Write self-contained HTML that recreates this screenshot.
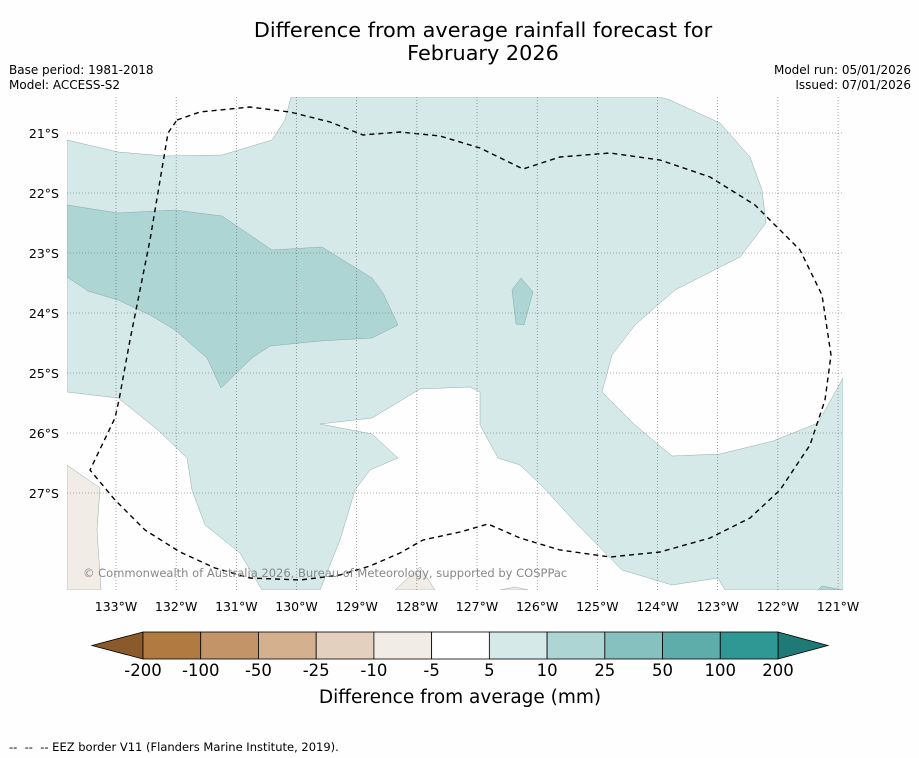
<!DOCTYPE html>
<html><head><meta charset="utf-8"><style>
body{margin:0;background:#fff;font-family:"DejaVu Sans","Liberation Sans",sans-serif;}
#wrap{position:relative;width:919px;height:758px;overflow:hidden;background:#fefefe;}
.t{position:absolute;white-space:nowrap;color:#000;}
svg text{font-family:"DejaVu Sans","Liberation Sans",sans-serif;}
</style></head><body>
<div id="wrap">
<div class="t" style="left:0;width:966px;top:19px;text-align:center;font-size:20.8px;line-height:23px;">Difference from average rainfall forecast for<br>February 2026</div>
<div class="t" style="left:9px;top:63px;font-size:12px;line-height:15px;">Base period: 1981-2018<br>Model: ACCESS-S2</div>
<div class="t" style="right:8px;top:63px;font-size:12px;line-height:15px;text-align:right;">Model run: 05/01/2026<br>Issued: 07/01/2026</div>
<div class="t" style="left:9px;top:740px;font-size:11.5px;">--&nbsp; --&nbsp; -- EEZ border V11 (Flanders Marine Institute, 2019).</div>
<svg id="svg" width="919" height="758" style="position:absolute;left:0;top:0"></svg>
</div>
<script>
const lonTicks=[133,132,131,130,129,128,127,126,125,124,123,122,121];
const latTicks=[21,22,23,24,25,26,27];
const cbLabels=["-200","-100","-50","-25","-10","-5","5","10","25","50","100","200"];
const cbColors=["#b07a40","#c39467","#d4b08f","#e4d0bf","#f2ece7","#ffffff","#d4e9e8","#acd5d4","#86c1bf","#5eadab","#2f9894"];
const extColors=["#8b5a2b","#1f7a77"];
const X=lon=>116+(133-lon)*60.17;
const Y=lat=>133+(lat-21)*60;
const svg=document.getElementById('svg');
const NS="http://www.w3.org/2000/svg";
function el(tag,attrs,parent){const e=document.createElementNS(NS,tag);for(const k in attrs)e.setAttribute(k,attrs[k]);(parent||svg).appendChild(e);return e;}
const clip=el('clipPath',{id:'pc'});el('rect',{x:67,y:97,width:776,height:493},clip);
const g=el('g',{'clip-path':'url(#pc)'});


const shapes=[
["#d4e9e8","light-teal-region","M291,97 L660,97 670,100 720,123 750,157 762,190 766,223 740,257 675,290 635,325 612,355 602,392 635,425 672,456 720,454 773,441 818,423 843,378 843,590 725,590 718,578 672,585 622,570 575,522 543,487 520,465 498,458 480,425 480,392 470,387 420,389 372,418 320,424 372,434 398,458 370,470 355,490 340,540 320,590 262,590 240,553 205,525 192,490 187,458 158,430 118,398 67,392 67,140 118,152 165,156 222,155 272,140 285,120Z"],
["#acd5d4","medium-teal-region","M67,205 L118,213 175,210 222,216 272,250 322,247 372,278 383,293 398,325 372,338 320,341 270,346 252,358 221,388 207,358 175,330 150,315 118,300 88,291 67,277Z"],
["#acd5d4","medium-teal-spot","M512,290 L521,278 533,292 524,325 516,324Z"],
["#f2ece7","dry-region-west","M67,465 L100,488 97,530 101,590 67,590Z"],
["#f2ece7","dry-spot-1","M395,590 L420,567 435,590Z"],
["#f2ece7","dry-spot-2","M500,590 L515,587 528,590Z"],
["#acd5d4","teal-spot-east","M818,590 L822,586 843,590Z"]];
shapes.forEach(s=>{const p=el('path',{d:s[2],fill:s[0],stroke:'#7a9a99','stroke-width':0.4},g);

});
lonTicks.forEach(l=>{const x=X(l);const ln=el('line',{x1:x,x2:x,y1:97,y2:590,stroke:'#666','stroke-width':0.6,'stroke-dasharray':'1,2'});


const t=el('text',{x:x,y:611,'font-size':12.5,'text-anchor':'middle'});t.textContent=l+'°W';

});
latTicks.forEach(l=>{const y=Y(l);const ln=el('line',{x1:67,x2:843,y1:y,y2:y,stroke:'#666','stroke-width':0.6,'stroke-dasharray':'1,2'});


const t=el('text',{x:59,y:y+5,'font-size':12.5,'text-anchor':'end'});t.textContent=l+'°S';

});
const eez=el('path',{d:"M177,120 L200,112 250,107 290,112 330,122 363,135 400,132 440,136 480,148 523,169 560,157 610,153 660,160 710,177 755,205 800,250 822,295 831,355 825,400 810,445 780,490 750,518 710,538 660,552 610,557 560,550 520,538 488,524 460,532 423,540 400,553 370,566 340,575 300,580 250,578 215,568 180,552 145,530 115,500 90,470 115,418 119,400 130,340 150,240 168,133Z",fill:'none',stroke:'#000','stroke-width':1.4,'stroke-dasharray':'5,4'},g);


const cr=el('text',{x:83,y:577,'font-size':11.5,fill:'#888'});cr.textContent="© Commonwealth of Australia 2026, Bureau of Meteorology, supported by COSPPac";


const cbX0=143,cbX1=778,cbY=632,cbH=27,n=cbColors.length,w=(cbX1-cbX0)/n;
const lt=el('polygon',{points:`${cbX0},${cbY} ${cbX0},${cbY+cbH} 92,${cbY+cbH/2}`,fill:extColors[0],stroke:'#000','stroke-width':0.8});


const rt=el('polygon',{points:`${cbX1},${cbY} ${cbX1},${cbY+cbH} 828,${cbY+cbH/2}`,fill:extColors[1],stroke:'#000','stroke-width':0.8});


cbColors.forEach((c,i)=>{const r=el('rect',{x:cbX0+i*w,y:cbY,width:w,height:cbH,fill:c,stroke:'#000','stroke-width':0.8});

});
cbLabels.forEach((s,i)=>{const t=el('text',{x:cbX0+i*w,y:676,'font-size':16.5,'text-anchor':'middle'});t.textContent=s;

});
const ct=el('text',{x:460,y:703,'font-size':18.5,'text-anchor':'middle'});ct.textContent="Difference from average (mm)";


</script>
</body></html>
